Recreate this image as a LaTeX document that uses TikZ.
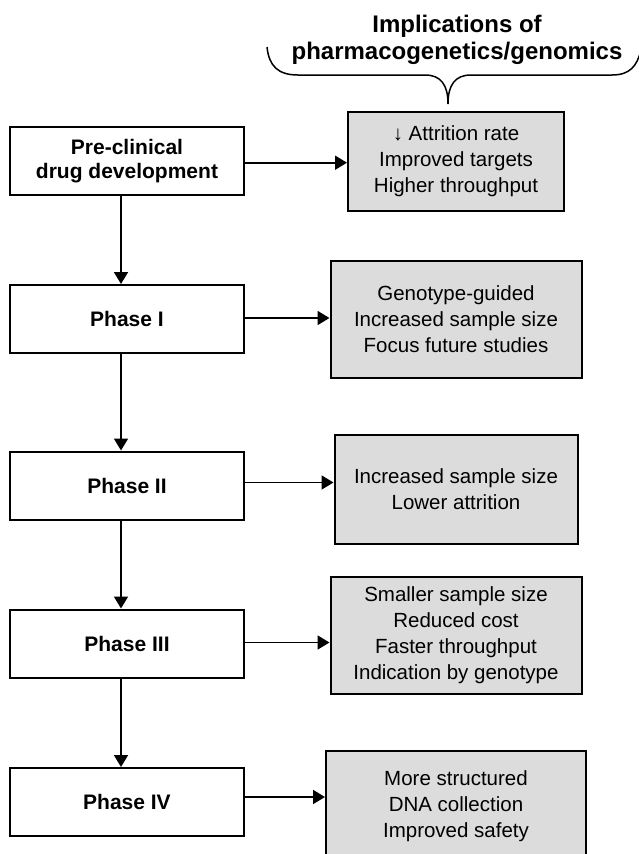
\documentclass[tikz,border=0pt]{standalone}
\usepackage{fontspec}
\setmainfont{Liberation Sans}
\usepackage{xcolor}
\usetikzlibrary{arrows.meta}

\begin{document}
\begin{tikzpicture}[x=1pt,y=-1pt,
  phasenode/.style={draw,line width=2pt,minimum width=234,minimum height=68,align=center,
    font=\fontsize{21}{24}\selectfont\bfseries},
  implnode/.style={draw,line width=2pt,fill=boxgray,align=center,
    font=\fontsize{20.5}{26}\selectfont},
  flow/.style={line width=1.8pt,-{Triangle[length=12pt,width=14pt]}}]
\definecolor{boxgray}{HTML}{DCDCDC}
\useasboundingbox (0,0) rectangle (639,854);
  \foreach \nm/\y/\dy/\ry/\w/\h/\lbl/\txt in {
    pre/161/-1.7/161.5/216/99/{Pre-clinical\\drug development}/{↓ Attrition rate\\Improved targets\\Higher throughput},
    ph1/319/1/319.5/251/117/{Phase I}/{Genotype-guided\\Increased sample size\\Focus future studies},
    ph2/485.5/3/489.5/243/109/{Phase II}/{Increased sample size\\Lower attrition},
    ph3/643.5/1/635.5/251/117/{Phase III}/{Smaller sample size\\Reduced cost\\Faster throughput\\Indication by genotype},
    ph4/802/5/806/260/110/{Phase IV}/{More structured\\DNA collection\\Improved safety}}
  { \node [phasenode] (\nm) at (127,\y) {\lbl};
    \node [implnode,minimum width=\w,minimum height=\h] (imp\nm) at (456,\ry) {\txt};
    \draw [flow] ([yshift=\dy pt]\nm.east) -- ([yshift=\dy pt]\nm.east -| imp\nm.west);}
  \foreach \a/\b in {pre/ph1,ph1/ph2,ph2/ph3,ph3/ph4}
  { \draw [flow] ([xshift=-6pt]\a.south) -- ([xshift=-6pt]\b.north);}
\node [align=center,font=\fontsize{24}{26.5}\selectfont\bfseries] (title) at (457,40) {Implications of\\pharmacogenetics/genomics};
\draw [line width=1.5pt] (267,47) .. controls (269,66) and (278,75) .. (298,75) -- (425,75)
  .. controls (441,75) and (448,85) .. (448,104)
  .. controls (448,85) and (455,75) .. (471,75) -- (612,75)
  .. controls (630,75) and (637,66) .. (641,50);
\end{tikzpicture}
\end{document}
